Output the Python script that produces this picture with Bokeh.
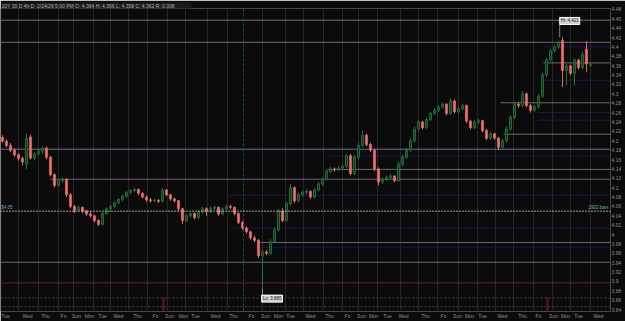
from bokeh.plotting import figure
from bokeh.models import FixedTicker, Span, Label, ColumnDataSource, Range1d
from bokeh.embed import file_html
from bokeh.resources import INLINE

# ---- data (4h bars, 10Y yield) ----
opens = [4.207, 4.199, 4.190, 4.180, 4.170, 4.162, 4.150, 4.208, 4.163, 4.172,
         4.178, 4.184, 4.165, 4.128, 4.105, 4.115, 4.118, 4.085, 4.060, 4.052,
         4.058, 4.050, 4.044, 4.040, 4.030, 4.022, 4.045, 4.055, 4.060, 4.068,
         4.075, 4.082, 4.090, 4.094, 4.096, 4.088, 4.080, 4.074, 4.072, 4.073,
         4.071, 4.095, 4.085, 4.076, 4.072, 4.055, 4.030, 4.040, 4.045, 4.036,
         4.048, 4.055, 4.050, 4.056, 4.058, 4.044, 4.055, 4.060, 4.058, 4.045,
         4.026, 4.014, 4.006, 3.993, 3.988, 3.955, 3.963, 3.960, 3.985, 4.010,
         4.050, 4.030, 4.066, 4.100, 4.072, 4.085, 4.090, 4.092, 4.080, 4.095,
         4.108, 4.118, 4.135, 4.140, 4.138, 4.142, 4.145, 4.168, 4.130, 4.165,
         4.190, 4.212, 4.192, 4.180, 4.140, 4.112, 4.118, 4.122, 4.125, 4.115,
         4.150, 4.165, 4.180, 4.200, 4.225, 4.240, 4.228, 4.245, 4.258, 4.265,
         4.272, 4.278, 4.258, 4.285, 4.262, 4.268, 4.275, 4.242, 4.228, 4.240,
         4.243, 4.222, 4.205, 4.215, 4.206, 4.186, 4.200, 4.225, 4.250, 4.278,
         4.275, 4.300, 4.275, 4.265, 4.272, 4.295, 4.340, 4.372, 4.392, 4.400,
         4.414, 4.350, 4.360, 4.344, 4.372, 4.356, 4.395, 4.360]
highs = [4.212, 4.203, 4.195, 4.184, 4.174, 4.166, 4.216, 4.213, 4.176, 4.182,
         4.188, 4.188, 4.168, 4.130, 4.118, 4.122, 4.120, 4.088, 4.063, 4.062,
         4.060, 4.053, 4.050, 4.042, 4.033, 4.048, 4.058, 4.063, 4.071, 4.078,
         4.085, 4.093, 4.097, 4.100, 4.098, 4.090, 4.083, 4.078, 4.077, 4.076,
         4.099, 4.097, 4.087, 4.079, 4.074, 4.057, 4.044, 4.049, 4.047, 4.052,
         4.059, 4.058, 4.060, 4.062, 4.060, 4.058, 4.064, 4.063, 4.060, 4.047,
         4.029, 4.017, 4.008, 3.998, 3.990, 3.968, 3.967, 3.990, 4.015, 4.055,
         4.056, 4.070, 4.108, 4.103, 4.089, 4.094, 4.096, 4.094, 4.099, 4.112,
         4.122, 4.139, 4.144, 4.143, 4.146, 4.149, 4.172, 4.172, 4.170, 4.195,
         4.222, 4.215, 4.196, 4.183, 4.143, 4.122, 4.126, 4.129, 4.127, 4.155,
         4.170, 4.184, 4.205, 4.230, 4.245, 4.242, 4.250, 4.262, 4.269, 4.276,
         4.282, 4.280, 4.290, 4.288, 4.272, 4.279, 4.277, 4.245, 4.244, 4.247,
         4.245, 4.225, 4.219, 4.217, 4.208, 4.204, 4.230, 4.255, 4.283, 4.281,
         4.306, 4.303, 4.278, 4.276, 4.300, 4.345, 4.377, 4.396, 4.404, 4.414,
         4.421, 4.364, 4.362, 4.376, 4.375, 4.390, 4.412, 4.366]
lows = [4.196, 4.186, 4.176, 4.166, 4.158, 4.147, 4.140, 4.160, 4.158, 4.168,
        4.172, 4.160, 4.124, 4.100, 4.102, 4.110, 4.080, 4.056, 4.046, 4.048,
        4.046, 4.040, 4.036, 4.026, 4.018, 4.020, 4.042, 4.050, 4.056, 4.064,
        4.071, 4.078, 4.086, 4.090, 4.084, 4.077, 4.070, 4.068, 4.069, 4.067,
        4.069, 4.082, 4.072, 4.068, 4.050, 4.022, 4.027, 4.036, 4.032, 4.033,
        4.045, 4.040, 4.046, 4.052, 4.040, 4.041, 4.052, 4.054, 4.041, 4.022,
        4.010, 4.002, 3.989, 3.984, 3.950, 3.885, 3.956, 3.957, 3.982, 4.006,
        4.026, 4.028, 4.062, 4.068, 4.069, 4.081, 4.086, 4.076, 4.077, 4.092,
        4.104, 4.115, 4.131, 4.134, 4.135, 4.139, 4.142, 4.126, 4.127, 4.160,
        4.186, 4.188, 4.176, 4.135, 4.105, 4.108, 4.114, 4.118, 4.111, 4.112,
        4.146, 4.161, 4.176, 4.196, 4.221, 4.224, 4.225, 4.242, 4.255, 4.261,
        4.268, 4.254, 4.255, 4.258, 4.259, 4.264, 4.238, 4.224, 4.225, 4.236,
        4.218, 4.201, 4.202, 4.202, 4.180, 4.182, 4.196, 4.221, 4.246, 4.270,
        4.272, 4.271, 4.260, 4.262, 4.269, 4.291, 4.336, 4.368, 4.388, 4.396,
        4.314, 4.318, 4.340, 4.318, 4.352, 4.352, 4.346, 4.358]
closes = [4.199, 4.190, 4.180, 4.170, 4.162, 4.155, 4.205, 4.163, 4.172, 4.178,
          4.184, 4.165, 4.128, 4.105, 4.115, 4.118, 4.085, 4.060, 4.052, 4.058,
          4.050, 4.044, 4.040, 4.030, 4.022, 4.045, 4.055, 4.060, 4.068, 4.075,
          4.082, 4.090, 4.094, 4.096, 4.088, 4.080, 4.074, 4.072, 4.073, 4.071,
          4.095, 4.085, 4.076, 4.072, 4.055, 4.030, 4.040, 4.045, 4.036, 4.048,
          4.055, 4.050, 4.056, 4.058, 4.044, 4.055, 4.060, 4.058, 4.045, 4.026,
          4.014, 4.006, 3.993, 3.988, 3.955, 3.963, 3.960, 3.985, 4.010, 4.050,
          4.030, 4.066, 4.100, 4.072, 4.085, 4.090, 4.092, 4.080, 4.095, 4.108,
          4.118, 4.135, 4.140, 4.138, 4.142, 4.145, 4.168, 4.130, 4.165, 4.190,
          4.212, 4.192, 4.180, 4.140, 4.112, 4.118, 4.122, 4.125, 4.115, 4.150,
          4.165, 4.180, 4.200, 4.225, 4.240, 4.228, 4.245, 4.258, 4.265, 4.272,
          4.278, 4.258, 4.285, 4.262, 4.268, 4.275, 4.242, 4.228, 4.240, 4.243,
          4.222, 4.205, 4.215, 4.206, 4.186, 4.200, 4.225, 4.250, 4.278, 4.275,
          4.300, 4.275, 4.265, 4.272, 4.295, 4.340, 4.372, 4.392, 4.400, 4.410,
          4.350, 4.360, 4.344, 4.372, 4.356, 4.385, 4.364, 4.362]

day_names = ["Tue", "Wed", "Thu", "Fri", "Sun", "Mon"] * 6 + ["Tue", "Wed"]
day_pos = [0.75, 6.25, 10.75, 15.25, 18.5, 21.75, 25, 29, 33.75, 38.25, 41.75, 45.25,
           48.25, 53.25, 57.75, 62.25, 65.75, 69, 72, 77, 81.75, 86.25, 89.75, 92.75,
           96.25, 100.25, 105.75, 110.25, 113.75, 116.75, 120, 125, 130, 134, 137.75,
           140.75, 144, 149]
day_breaks = [4, 9, 14, 17.75, 22.75, 27, 31.5, 36.25, 41.25, 45.75, 51.25, 56.25,
              65, 70.75, 75.25, 80.25, 85, 89, 93.75, 99.5, 104, 108.75, 114, 118.75,
              123.25, 127.75, 132.75, 137.5, 142, 147]

y_ticks = [3.84, 3.86, 3.88, 3.90, 3.92, 3.94, 3.96, 3.98, 4.00, 4.02, 4.04, 4.06,
           4.08, 4.10, 4.12, 4.14, 4.16, 4.18, 4.20, 4.22, 4.24, 4.26, 4.28, 4.30,
           4.32, 4.34, 4.36, 4.38, 4.40, 4.42, 4.44, 4.46, 4.48]

# drawn price levels: (price, first bar)
level_price = [4.457, 4.410, 4.366, 4.400, 4.329, 4.281, 4.260, 4.244, 4.214, 4.182,
               4.167, 4.139, 4.118, 4.084, 4.014, 3.983, 3.972, 3.941, 3.897, 3.865, 3.846]
level_start = [-0.5, -0.5, 135.25, 135.25, 135.25, 124.5, 133.75, 133.75, 125.25, -0.5,
               81.25, 81.25, 12, 56.25, 57, 64.5, 64.5, -0.5, -0.5, -0.5, -0.5]
level_kind = ["g", "g", "g", "b", "b", "g", "b", "b", "g", "l",
              "b", "g", "p", "b", "b", "g", "b", "g", "m", "d", "d"]

ref_price = 4.05
last_price = 4.362
hi_price = 4.421
lo_price = 3.885
header = "10Y 30 D 4h   D: 2/24/26 5:00 PM   O: 4.364   H: 4.366   L: 4.358   C: 4.362   R: 0.008"

# ---- figure ----
BG = "#0b0b0b"
X0, X1 = -0.5, 152.0
p = figure(width=625, height=321, output_backend="svg", toolbar_location=None,
           x_range=Range1d(X0, X1), y_range=Range1d(3.836, 4.482),
           y_axis_location="right", background_fill_color=BG,
           border_fill_color=BG, outline_line_color=None,
           min_border_left=0, min_border_right=15, min_border_top=8, min_border_bottom=8)

p.title.text = header
p.title.text_font_size = "5px"
p.title.text_color = "#b0b0b0"
p.title.text_font_style = "normal"
p.title.standoff = 0
p.title.offset = 1
p.title.background_fill_color = "#1a1a1a"

p.ygrid.visible = False
p.xgrid.ticker = FixedTicker(ticks=day_breaks)
p.xgrid.grid_line_color = "#262626"
p.xgrid.grid_line_width = 1

p.xaxis.ticker = FixedTicker(ticks=day_pos)
p.xaxis.major_label_overrides = {t: n for t, n in zip(day_pos, day_names)}
p.yaxis.ticker = FixedTicker(ticks=y_ticks)
p.yaxis.major_label_overrides = {t: f"{t:g}" for t in y_ticks}
for ax in (p.xaxis[0], p.yaxis[0]):
    ax.axis_line_color = None
    ax.major_tick_line_color = None
    ax.minor_tick_line_color = None
    ax.major_label_text_font_size = "5px"
    ax.major_label_text_color = "#8e8e8e"
    ax.major_label_text_font = "Liberation Sans"
    ax.major_label_standoff = 1
    ax.major_tick_out = 0
    ax.major_tick_in = 0

colors = {"g": "#6c6c6c", "b": "#181856", "l": "#6e6e9a", "p": "#74587e",
          "m": "#6a1c36", "d": "#444444"}
keep = [k != "d" for k in level_kind]
lv = ColumnDataSource(dict(x0=[s for s, k in zip(level_start, keep) if k],
                           x1=[X1] * sum(keep),
                           y=[v for v, k in zip(level_price, keep) if k],
                           c=[colors[k] for k in level_kind if k != "d"]))
p.segment(x0="x0", y0="y", x1="x1", y1="y", line_color="c", line_width=1, source=lv)
for v, k in zip(level_price, level_kind):
    if k == "d":
        p.add_layout(Span(location=v, dimension="width", line_color=colors["d"],
                          line_dash="2 2", line_width=1))

# green dashed vertical and event markers
p.add_layout(Span(location=60.25, dimension="height", line_color="#15543a",
                  line_dash="3 2", line_width=1))
p.segment(x0=[40.25, 136.25], x1=[40.25, 136.25], y0=[3.866, 3.866], y1=[3.836, 3.836],
          line_color="#5a1624", line_width=2)

# reference dotted line
p.add_layout(Span(location=ref_price, dimension="width", line_color="#cfcfcf",
                  line_dash="1 2", line_width=1.5))
p.add_layout(Label(x=-0.3, y=ref_price, text="$4.05", text_font_size="4.5px",
                   text_color="#7fa6c8", y_offset=1, text_baseline="bottom"))
p.add_layout(Label(x=151.5, y=ref_price, text="2902 bars", text_font_size="4.5px",
                   text_color="#6fb0a8", text_align="right", y_offset=1,
                   text_baseline="bottom"))

# candles
xs = list(range(len(closes)))
up = [c >= o for o, c in zip(opens, closes)]
src_up = ColumnDataSource(dict(x=[x for x, u in zip(xs, up) if u],
                               o=[v for v, u in zip(opens, up) if u],
                               h=[v for v, u in zip(highs, up) if u],
                               l=[v for v, u in zip(lows, up) if u],
                               c=[v for v, u in zip(closes, up) if u]))
src_dn = ColumnDataSource(dict(x=[x for x, u in zip(xs, up) if not u],
                               o=[v for v, u in zip(opens, up) if not u],
                               h=[v for v, u in zip(highs, up) if not u],
                               l=[v for v, u in zip(lows, up) if not u],
                               c=[v for v, u in zip(closes, up) if not u]))
UP, DN = "#267a3e", "#ee7070"
p.segment(x0="x", x1="x", y0="l", y1="h", line_color=UP, line_width=0.9, source=src_up)
p.vbar(x="x", width=0.5, bottom="o", top="c", fill_color="#123a1c", line_color=UP,
       line_width=0.8, source=src_up)
p.segment(x0="x", x1="x", y0="l", y1="h", line_color=DN, line_width=0.9, source=src_dn)
p.vbar(x="x", width=0.55, bottom="c", top="o", fill_color=DN, line_color=DN,
       line_width=0.6, source=src_dn)

# hi / lo tags
p.segment(x0=[139.3, 65.0], x1=[139.3, 65.0], y0=[hi_price, lo_price], y1=[4.448, 3.866],
          line_color="#a8a8a8", line_width=0.8)
p.add_layout(Label(x=139.3, y=4.448, text=f"Hi: {hi_price:.3f}", text_font_size="4.5px",
                   text_color="#222222", background_fill_color="#cfcfcf",
                   border_line_color="#ffffff", padding=1))
p.add_layout(Label(x=64.8, y=3.856, text=f"Lo: {lo_price:.3f}", text_font_size="4.5px",
                   text_color="#222222", background_fill_color="#cfcfcf",
                   border_line_color="#ffffff", padding=1))

# last price tag
p.add_layout(Label(x=X1, y=last_price, text=f"{last_price:.3f}", text_font_size="5px",
                   text_color="#ffffff", background_fill_color="#e05858",
                   text_baseline="middle", x_offset=1, padding=1))

open("out.html", "w").write(file_html(p, INLINE))
